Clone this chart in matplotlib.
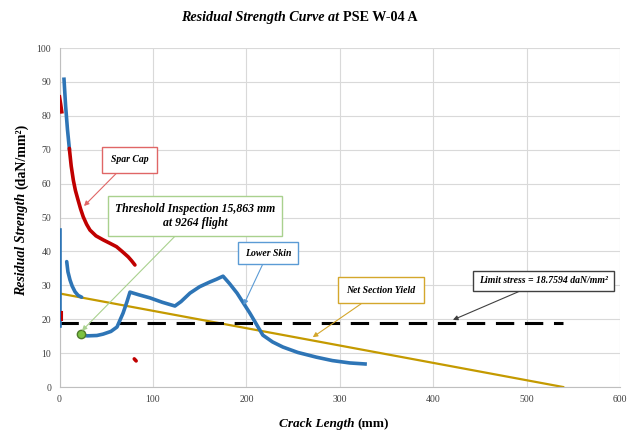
# Residual strength curve at PSE W-04 A

import matplotlib.pyplot as plt

# Lower skin (blue) pieces
skin_wall_x = [0.0, 0.0]
skin_wall_y = [46.3, 18.0]
skin_top_x = [4.8, 6.5, 8.5, 10.5]
skin_top_y = [90.8, 83.0, 76.0, 70.4]
skin_short_x = [7.7, 9.0, 11.2, 13.5, 16.6, 20.0, 23.7]
skin_short_y = [37.0, 34.0, 31.6, 29.8, 28.1, 27.0, 26.5]
skin_main_x = [23, 30, 40, 46.5, 55, 61.5, 68, 72, 75.4, 85, 96.8, 110, 123.5,
               130, 139.6, 150, 161, 168, 175, 182, 190, 203.7, 217.6, 228,
               239, 255, 275, 292, 310.7, 327]
skin_main_y = [15.3, 15.1, 15.2, 15.6, 16.4, 17.7, 21.8, 25.0, 28.0, 27.2, 26.3,
               25.0, 23.9, 25.2, 27.7, 29.6, 31.0, 31.8, 32.7, 30.5, 27.7, 21.8,
               15.3, 13.3, 11.8, 10.2, 8.8, 7.8, 7.1, 6.8]

# Spar cap (red) pieces
spar_top_x = [0.0, 1.2, 2.4]
spar_top_y = [85.6, 83.5, 81.2]
spar_main_x = [10.5, 12.5, 14.8, 17.0, 19.6, 22.5, 25.4, 29.0, 32.6, 39.0, 46.8,
               54.0, 61.0, 67.0, 73.5, 77.0, 80.7]
spar_main_y = [70.4, 65.2, 61.0, 58.0, 55.4, 52.6, 50.2, 48.0, 46.3, 44.6, 43.4,
               42.4, 41.4, 40.0, 38.4, 37.3, 36.0]
spar_low_x = [80.0, 82.0]
spar_low_y = [8.3, 7.7]
spar_wall_x = [2.5, 2.5]
spar_wall_y = [22.0, 19.8]

# Net section yield and limit stress
nsy_x = [0, 539]
nsy_y = [27.6, 0]
limit_x = [0, 539]
limit_stress = 18.7594

threshold_x = 23
threshold_y = 15.6

blue = '#2e75b6'
red = '#c00000'
gold = '#c49a00'
serif = 'Liberation Serif'

fig = plt.figure(figsize=(6.4, 4.41), dpi=100)
ax = fig.add_axes([0.093, 0.1224, 0.876, 0.7686])

lw = 2.6
ax.plot(nsy_x, nsy_y, color=gold, lw=1.6, zorder=2)
ax.plot(limit_x, [limit_stress] * 2, color='black', lw=2.2, dashes=(6, 3.5), zorder=3)
ax.plot(skin_wall_x, skin_wall_y, color=blue, lw=lw, zorder=4)
ax.plot(spar_wall_x, spar_wall_y, color=red, lw=1.5, zorder=4)
ax.plot(skin_top_x, skin_top_y, color=blue, lw=lw, zorder=4)
ax.plot(skin_short_x, skin_short_y, color=blue, lw=lw, solid_capstyle='round', zorder=4)
ax.plot(skin_main_x, skin_main_y, color=blue, lw=lw, zorder=4)
ax.plot(spar_top_x, spar_top_y, color=red, lw=lw, zorder=4)
ax.plot(spar_main_x, spar_main_y, color=red, lw=lw, solid_capstyle='round', zorder=4)
ax.plot(spar_low_x, spar_low_y, color=red, lw=lw, solid_capstyle='round', zorder=4)
ax.plot([threshold_x], [threshold_y], 'o', ms=6, color='#7cc242', mec='#4e7a2a', zorder=5)

ax.set_xlim(0, 600)
ax.set_ylim(0, 100)
ax.set_xticks(range(0, 601, 100))
ax.set_yticks(range(0, 101, 10))
ax.grid(True, color='#d9d9d9', lw=0.8)
ax.set_axisbelow(True)
ax.tick_params(length=0, labelsize=7, colors='#404040', pad=6)
for lab in ax.get_xticklabels() + ax.get_yticklabels():
    lab.set_family(serif)
for s in ['top', 'right']:
    ax.spines[s].set_visible(False)
for s in ['left', 'bottom']:
    ax.spines[s].set_color('#bfbfbf')

# title in two styles, centred as a whole
t1 = fig.text(0.468, 0.961, 'Residual Strength Curve at ', ha='left', va='center',
              family=serif, style='italic', weight='bold', fontsize=10.2)
t2 = ax.annotate('PSE W-04 A', xy=(1, 0), xycoords=t1, va='bottom', ha='left',
                 family=serif, weight='bold', fontsize=10.2)
fig.canvas.draw()
total = (t1.get_window_extent().width + t2.get_window_extent().width) / fig.bbox.width
t1.set_x(0.468 - total / 2)

# axis labels, each in two styles
xl = fig.text(0.522, 0.039, 'Crack Length ', ha='left', va='center',
              family=serif, style='italic', weight='bold', fontsize=9.5)
x2 = ax.annotate('(mm)', xy=(1, 0), xycoords=xl, va='bottom', ha='left',
                 family=serif, weight='bold', fontsize=9.5)
yl = fig.text(0.033, 0.524, 'Residual Strength ', ha='center', va='bottom', rotation=90,
              family=serif, style='italic', weight='bold', fontsize=10)
y2 = ax.annotate('(daN/mm²)', xy=(0, 1), xycoords=yl, va='bottom', ha='left', rotation=90,
                 family=serif, weight='bold', fontsize=10)
fig.canvas.draw()
w = (xl.get_window_extent().width + x2.get_window_extent().width) / fig.bbox.width
xl.set_x(0.522 - w / 2)
h = (yl.get_window_extent().height + y2.get_window_extent().height) / fig.bbox.height
yl.set_y(0.524 - h / 2)

def callout(text, xy, xytext, edge, size=7, pad=0.9):
    ax.annotate(text, xy=xy, xytext=xytext, ha='center', va='center',
                family=serif, style='italic', weight='bold', fontsize=size,
                bbox=dict(boxstyle='square,pad=%s' % pad, fc='white', ec=edge, lw=1),
                arrowprops=dict(arrowstyle='-|>', color=edge, lw=0.8,
                                shrinkA=0, shrinkB=0, mutation_scale=7),
                zorder=6)

callout('Spar Cap', (26.2, 53.4), (75, 67), '#e06666')
callout('Threshold Inspection 15,863 mm\nat 9264 flight', (threshold_x + 1, threshold_y + 1),
        (145, 50.5), '#a9d18e', size=8.5, pad=0.6)
callout('Lower Skin', (197, 24.2), (223, 39.5), '#5b9bd5', pad=0.7)
callout('Net Section Yield', (271, 14.7), (344, 28.6), '#d4a72c')
callout('Limit stress = 18.7594 daN/mm²', (421, 19.8), (518, 31.3), '#404040', pad=0.6)

fig.savefig('out.png', dpi=100)
